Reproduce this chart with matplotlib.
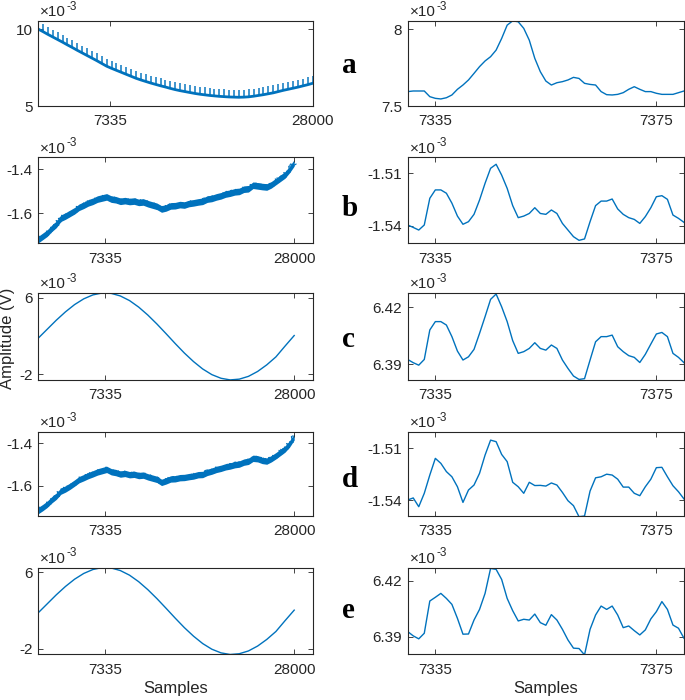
import numpy as np
import matplotlib.pyplot as plt

plt.rcParams['font.family'] = ['Liberation Sans', 'DejaVu Sans']
plt.rcParams['axes.unicode_minus'] = False

BLUE = '#0072BD'
GREY = '#262626'

# ---- long records (values in units of 1e-3 V) ----
# a: slow drift with periodic spikes, baseline read every 500 samples
base_a = [10.03, 9.86, 9.68, 9.51, 9.34, 9.17, 8.99, 8.82, 8.64, 8.47,
          8.30, 8.13, 7.96, 7.78, 7.60, 7.46, 7.33, 7.20, 7.07, 6.94,
          6.81, 6.70, 6.60, 6.50, 6.41, 6.32, 6.24, 6.15, 6.07, 6.00,
          5.94, 5.88, 5.82, 5.77, 5.73, 5.69, 5.66, 5.63, 5.61, 5.59,
          5.58, 5.57, 5.58, 5.60, 5.64, 5.69, 5.74, 5.80, 5.86, 5.94,
          6.02, 6.09, 6.16, 6.23, 6.31, 6.39, 6.48]
spike_a = 0.48

# b, d: noisy drift, centre of the band read every 500 samples
mid_b = [-1.720, -1.705, -1.690, -1.668, -1.650, -1.622, -1.612, -1.600, -1.588, -1.572,
         -1.563, -1.552, -1.545, -1.535, -1.530, -1.525, -1.535, -1.538, -1.545, -1.542,
         -1.546, -1.544, -1.550, -1.548, -1.556, -1.562, -1.568, -1.580, -1.575, -1.566,
         -1.565, -1.560, -1.562, -1.555, -1.552, -1.548, -1.545, -1.535, -1.532, -1.525,
         -1.520, -1.512, -1.508, -1.502, -1.500, -1.490, -1.488, -1.472, -1.475, -1.478,
         -1.480, -1.470, -1.455, -1.440, -1.425, -1.400, -1.370]
mid_d = [-1.716, -1.702, -1.686, -1.665, -1.648, -1.624, -1.614, -1.601, -1.586, -1.570,
         -1.561, -1.551, -1.543, -1.534, -1.528, -1.522, -1.533, -1.537, -1.544, -1.541,
         -1.547, -1.545, -1.551, -1.549, -1.557, -1.563, -1.569, -1.583, -1.576, -1.567,
         -1.566, -1.561, -1.560, -1.556, -1.553, -1.547, -1.546, -1.536, -1.530, -1.522,
         -1.517, -1.510, -1.506, -1.500, -1.497, -1.488, -1.484, -1.470, -1.472, -1.480,
         -1.483, -1.472, -1.458, -1.442, -1.426, -1.402, -1.369]
band_hw = 0.015

# c, e: sinusoid read every 1000 samples
sine_c = [1.75, 2.70, 3.65, 4.52, 5.28, 5.88, 6.29, 6.49, 6.45, 6.18,
          5.70, 5.02, 4.19, 3.25, 2.24, 1.21, 0.22, -0.67, -1.44, -2.03,
          -2.41, -2.58, -2.50, -2.21, -1.70, -1.01, -0.18, 0.95, 2.05]
sine_e = sine_c

# ---- zoomed records, samples 7330..7380 ----
zoom_a = [7.594, 7.598, 7.598, 7.598, 7.561, 7.550, 7.546, 7.554, 7.572, 7.609,
          7.637, 7.670, 7.713, 7.757, 7.794, 7.822, 7.865, 7.941, 8.028, 8.056,
          8.050, 8.007, 7.930, 7.811, 7.724, 7.663, 7.637, 7.652, 7.659, 7.670,
          7.687, 7.680, 7.648, 7.641, 7.637, 7.594, 7.574, 7.572, 7.576, 7.587,
          7.609, 7.626, 7.609, 7.594, 7.594, 7.583, 7.576, 7.576, 7.576, 7.587,
          7.598]
zoom_b = [-1.5396, -1.5410, -1.5425, -1.5396, -1.5243, -1.5195, -1.5195, -1.5214, -1.5271, -1.5345,
          -1.5392, -1.5377, -1.5335, -1.5253, -1.5157, -1.5071, -1.5048, -1.5110, -1.5186, -1.5285,
          -1.5354, -1.5345, -1.5330, -1.5297, -1.5330, -1.5335, -1.5310, -1.5330, -1.5387, -1.5425,
          -1.5463, -1.5484, -1.5476, -1.5377, -1.5285, -1.5259, -1.5259, -1.5247, -1.5304, -1.5335,
          -1.5354, -1.5364, -1.5387, -1.5348, -1.5297, -1.5234, -1.5228, -1.5249, -1.5339, -1.5358,
          -1.5381]
zoom_c = [6.3926, 6.3909, 6.3896, 6.3926, 6.4081, 6.4125, 6.4125, 6.4107, 6.4046, 6.3970,
          6.3923, 6.3940, 6.3979, 6.4063, 6.4151, 6.4242, 6.4270, 6.4203, 6.4125, 6.4025,
          6.3958, 6.3967, 6.3984, 6.4014, 6.3984, 6.3975, 6.4002, 6.3984, 6.3923, 6.3879,
          6.3839, 6.3821, 6.3825, 6.3923, 6.4019, 6.4046, 6.4046, 6.4054, 6.3993, 6.3967,
          6.3946, 6.3937, 6.3910, 6.3953, 6.4007, 6.4060, 6.4068, 6.4046, 6.3958, 6.3937,
          6.3909]
zoom_d = [-1.5400, -1.5388, -1.5439, -1.5361, -1.5255, -1.5158, -1.5187, -1.5235, -1.5265, -1.5323,
          -1.5414, -1.5342, -1.5313, -1.5245, -1.5139, -1.5052, -1.5061, -1.5135, -1.5177, -1.5297,
          -1.5323, -1.5361, -1.5297, -1.5316, -1.5315, -1.5319, -1.5301, -1.5313, -1.5356, -1.5404,
          -1.5433, -1.5497, -1.5493, -1.5348, -1.5271, -1.5265, -1.5250, -1.5255, -1.5279, -1.5325,
          -1.5325, -1.5361, -1.5375, -1.5323, -1.5279, -1.5212, -1.5210, -1.5265, -1.5317, -1.5352,
          -1.5394]
zoom_e = [6.3927, 6.3904, 6.3888, 6.3918, 6.4091, 6.4111, 6.4132, 6.4105, 6.4073, 6.3998,
          6.3913, 6.3914, 6.3989, 6.4046, 6.4132, 6.4266, 6.4261, 6.4207, 6.4105, 6.4039,
          6.3984, 6.3993, 6.3989, 6.4021, 6.3975, 6.3961, 6.4018, 6.3989, 6.3939, 6.3882,
          6.3838, 6.3836, 6.3802, 6.3939, 6.4016, 6.4064, 6.4046, 6.4064, 6.4016, 6.3948,
          6.3957, 6.3932, 6.3909, 6.3936, 6.3995, 6.4034, 6.4088, 6.4046, 6.3962, 6.3945,
          6.3891]
zoom_start = 7330

letters = ['a', 'b', 'c', 'd', 'e']
left_ticks = [[5, 10], [-1.6, -1.4], [-2, 6], [-1.6, -1.4], [-2, 6]]
left_ylim = [(5, 10.57), (-1.736, -1.345), (-2.59, 6.52), (-1.741, -1.345), (-2.56, 6.50)]
left_xlim = [(0, 28000), (0, 30000), (0, 30000), (0, 30000), (0, 30000)]
right_ticks = [[7.5, 8], [-1.54, -1.51], [6.39, 6.42], [-1.54, -1.51], [6.39, 6.42]]
right_ylim = [(7.5, 8.057), (-1.5501, -1.5008), (6.3818, 6.4277), (-1.5493, -1.5003), (6.3805, 6.4271)]

# layout in pixels (top, bottom) of each row, figure is 685 x 700
W, H = 685., 700.
rows_px = [(20.7, 106.0), (157.3, 243.3), (292.7, 380.0), (431.7, 516.0), (567.5, 654.3)]
letter_base_px = [73, 216, 347, 487, 618]

fig = plt.figure(figsize=(6.85, 7.0), dpi=100)


def style(ax, ticks, ylim, xlim, xticks, xlabels):
    ax.set_ylim(*ylim)
    ax.set_xlim(*xlim)
    ax.set_yticks(ticks)
    ax.set_yticklabels([f'{t:g}' for t in ticks])
    ax.set_xticks(xticks)
    ax.set_xticklabels(xlabels)
    ax.tick_params(direction='in', top=True, right=True, length=3.5, width=0.6,
                   labelsize=11, colors=GREY)
    ax.tick_params(axis='x', pad=6)
    ax.tick_params(axis='y', pad=4)
    for s in ax.spines.values():
        s.set_color(GREY)
        s.set_linewidth(0.8)
    # MATLAB style exponent label
    t = ax.text(0.008, 1.0 + 4.5 / (ax.get_position().height * H), '\u00d710',
                transform=ax.transAxes, ha='left', va='baseline', fontsize=11, color=GREY)
    ax.annotate('-3', xy=(1, 1), xycoords=t, xytext=(0.3, -1.0),
                textcoords='offset points', ha='left', va='center', fontsize=8.5,
                color=GREY, annotation_clip=False)


for i in range(5):
    top, bot = rows_px[i]
    y0 = 1 - bot / H
    h = (bot - top) / H
    axl = fig.add_axes([38 / W, y0, (312.5 - 38) / W, h])
    axr = fig.add_axes([407.7 / W, y0, (684 - 407.7) / W, h])

    if i == 0:
        xa = np.arange(len(base_a)) * 500
        ba = np.array(base_a)
        axl.vlines(xa, ba, ba + spike_a, color=BLUE, lw=1.4, alpha=0.75)
        axl.plot(xa, ba, color=BLUE, lw=2.0)
    elif i in (1, 3):
        mid = np.array(mid_b if i == 1 else mid_d)
        xb = np.arange(len(mid)) * 500
        axl.fill_between(xb, mid - band_hw, mid + band_hw, color=BLUE, lw=0)
        ln, = axl.plot(xb, mid, color=BLUE, lw=0.8)
        ln.set_sketch_params(scale=2.5, length=0.8, randomness=4)
    else:
        s = sine_c if i == 2 else sine_e
        axl.plot(np.arange(len(s)) * 1000, s, color=BLUE, lw=1.0)

    style(axl, left_ticks[i], left_ylim[i], left_xlim[i], [7335, 28000], ['7335', '28000'])

    zr = [zoom_a, zoom_b, zoom_c, zoom_d, zoom_e][i]
    axr.plot(zoom_start + np.arange(len(zr)), zr, color=BLUE, lw=1.0)
    style(axr, right_ticks[i], right_ylim[i], (7330, 7380), [7335, 7375], ['7335', '7375'])

    fig.text(342 / W, 1 - letter_base_px[i] / H, letters[i], fontsize=21,
             fontweight='bold', family='Liberation Serif', va='baseline', ha='left')

    if i == 4:
        axl.set_xlabel('Samples', fontsize=12, color=GREY, labelpad=3)
        axr.set_xlabel('Samples', fontsize=12, color=GREY, labelpad=3)

fig.text(8 / W, 1 - 338 / H, 'Amplitude (V)', rotation=90, fontsize=12,
         color=GREY, ha='center', va='center')

fig.savefig('out.png', dpi=100)
